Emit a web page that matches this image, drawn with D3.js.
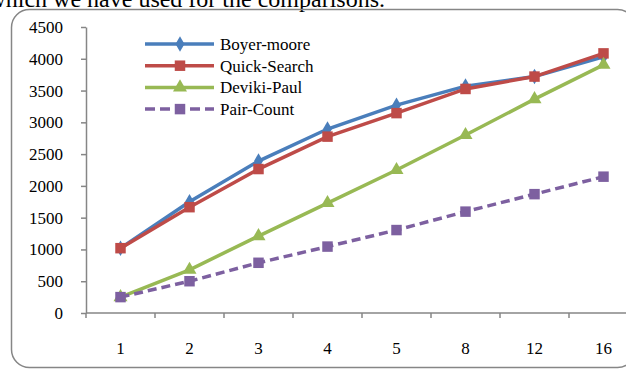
<!DOCTYPE html>
<meta charset="utf-8">
<script src="https://d3js.org/d3.v7.min.js"></script>
<style>
  body { margin: 0; background: #fff; }
  text { font-family: "Liberation Serif", "Times New Roman", serif; }
</style>
<div id="my_dataviz"></div>
<script>

  // data
  var categories = ["1", "2", "3", "4", "5", "8", "12", "16"];
  var boyerMoore  = [1020, 1750, 2390, 2895, 3270, 3570, 3720, 4030];
  var quickSearch = [1020, 1665, 2265, 2775, 3145, 3525, 3720, 4085];
  var devikiPaul  = [250, 680, 1210, 1730, 2250, 2800, 3365, 3905];
  var pairCount   = [250, 500, 790, 1045, 1305, 1595, 1870, 2145];
  var yTicks = [0, 500, 1000, 1500, 2000, 2500, 3000, 3500, 4000, 4500];

  var series = [
    {name: "Boyer-moore",  values: boyerMoore,  color: "#4a7ebb", shape: "diamond",  dash: null},
    {name: "Quick-Search", values: quickSearch, color: "#be4b48", shape: "square",   dash: null},
    {name: "Deviki-Paul",  values: devikiPaul,  color: "#98b954", shape: "triangle", dash: null},
    {name: "Pair-Count",   values: pairCount,   color: "#7d60a0", shape: "square",   dash: "9,5"}
  ];

  var W = 626, H = 369;
  var svg = d3.select("#my_dataviz").append("svg")
      .attr("width", W).attr("height", H);

  // line of page text above the chart, cut by the crop
  svg.append("text")
    .attr("x", 385).attr("y", 7)
    .attr("text-anchor", "end")
    .style("font-size", "24px")
    .text("which we have used for the comparisons.");

  // rounded frame of the chart
  svg.append("rect")
    .attr("x", 11.5).attr("y", 9.5)
    .attr("width", 624).attr("height", 358)
    .attr("rx", 18).attr("ry", 18)
    .attr("fill", "none")
    .attr("stroke", "#868686")
    .attr("stroke-width", 1.5);

  var x = d3.scaleBand().domain(categories).range([86, 638]).padding(0);
  var y = d3.scaleLinear().domain([0, 4500]).range([313, 27]);

  // axes
  var gx = svg.append("g")
    .attr("transform", "translate(0,313)")
    .call(d3.axisBottom(x).tickSize(0).tickPadding(29));
  gx.select(".domain").remove();
  gx.append("line")
    .attr("x1", 86).attr("x2", 640).attr("y1", 0).attr("y2", 0)
    .attr("stroke", "#868686").attr("stroke-width", 1.5);
  gx.selectAll(".xt")
    .data(categories.concat(["_end"]))
    .enter().append("line")
      .attr("x1", function(d) { return d === "_end" ? 638 : x(d); })
      .attr("x2", function(d) { return d === "_end" ? 638 : x(d); })
      .attr("y1", 0).attr("y2", 5)
      .attr("stroke", "#868686").attr("stroke-width", 1.5);
  gx.selectAll("text")
    .attr("fill", "#000")
    .style("font-size", "17px")
    .style("font-family", '"Liberation Serif", serif');

  var gy = svg.append("g")
    .attr("transform", "translate(86,0)")
    .call(d3.axisLeft(y).tickValues(yTicks).tickFormat(d3.format("d"))
      .tickSize(5).tickPadding(18).tickSizeOuter(0));
  gy.select(".domain").attr("stroke", "#868686").attr("stroke-width", 1.5);
  gy.selectAll(".tick line").attr("stroke", "#868686").attr("stroke-width", 1.5);
  gy.selectAll("text")
    .attr("fill", "#000")
    .style("font-size", "17px")
    .style("font-family", '"Liberation Serif", serif');

  var symbols = {
    diamond:  d3.symbol().type(d3.symbolDiamond).size(70),
    square:   d3.symbol().type(d3.symbolSquare).size(110),
    triangle: d3.symbol().type(d3.symbolTriangle).size(85)
  };

  var line = d3.line()
    .x(function(d, i) { return x(categories[i]) + x.bandwidth() / 2; })
    .y(function(d) { return y(d); });

  series.forEach(function(s) {
    var g = svg.append("g");
    g.append("path")
      .datum(s.values)
      .attr("d", line)
      .attr("fill", "none")
      .attr("stroke", s.color)
      .attr("stroke-width", 3.5)
      .attr("stroke-dasharray", s.dash);
    g.selectAll("path.mk")
      .data(s.values)
      .enter().append("path")
        .attr("class", "mk")
        .attr("d", symbols[s.shape])
        .attr("transform", function(d, i) {
          return "translate(" + (x(categories[i]) + x.bandwidth() / 2) + "," + y(d) + ")";
        })
        .attr("fill", s.color);
  });

  // legend
  var legend = svg.append("g");
  series.forEach(function(s, i) {
    var ly = 44 + i * 21.7;
    legend.append("line")
      .attr("x1", 145).attr("x2", 214).attr("y1", ly).attr("y2", ly)
      .attr("stroke", s.color).attr("stroke-width", 3.5)
      .attr("stroke-dasharray", s.dash ? "10,5" : null);
    legend.append("path")
      .attr("d", symbols[s.shape])
      .attr("transform", "translate(180," + ly + ")")
      .attr("fill", s.color);
    legend.append("text")
      .attr("x", 220).attr("y", ly + 6)
      .style("font-size", "17px")
      .text(s.name);
  });

</script>
